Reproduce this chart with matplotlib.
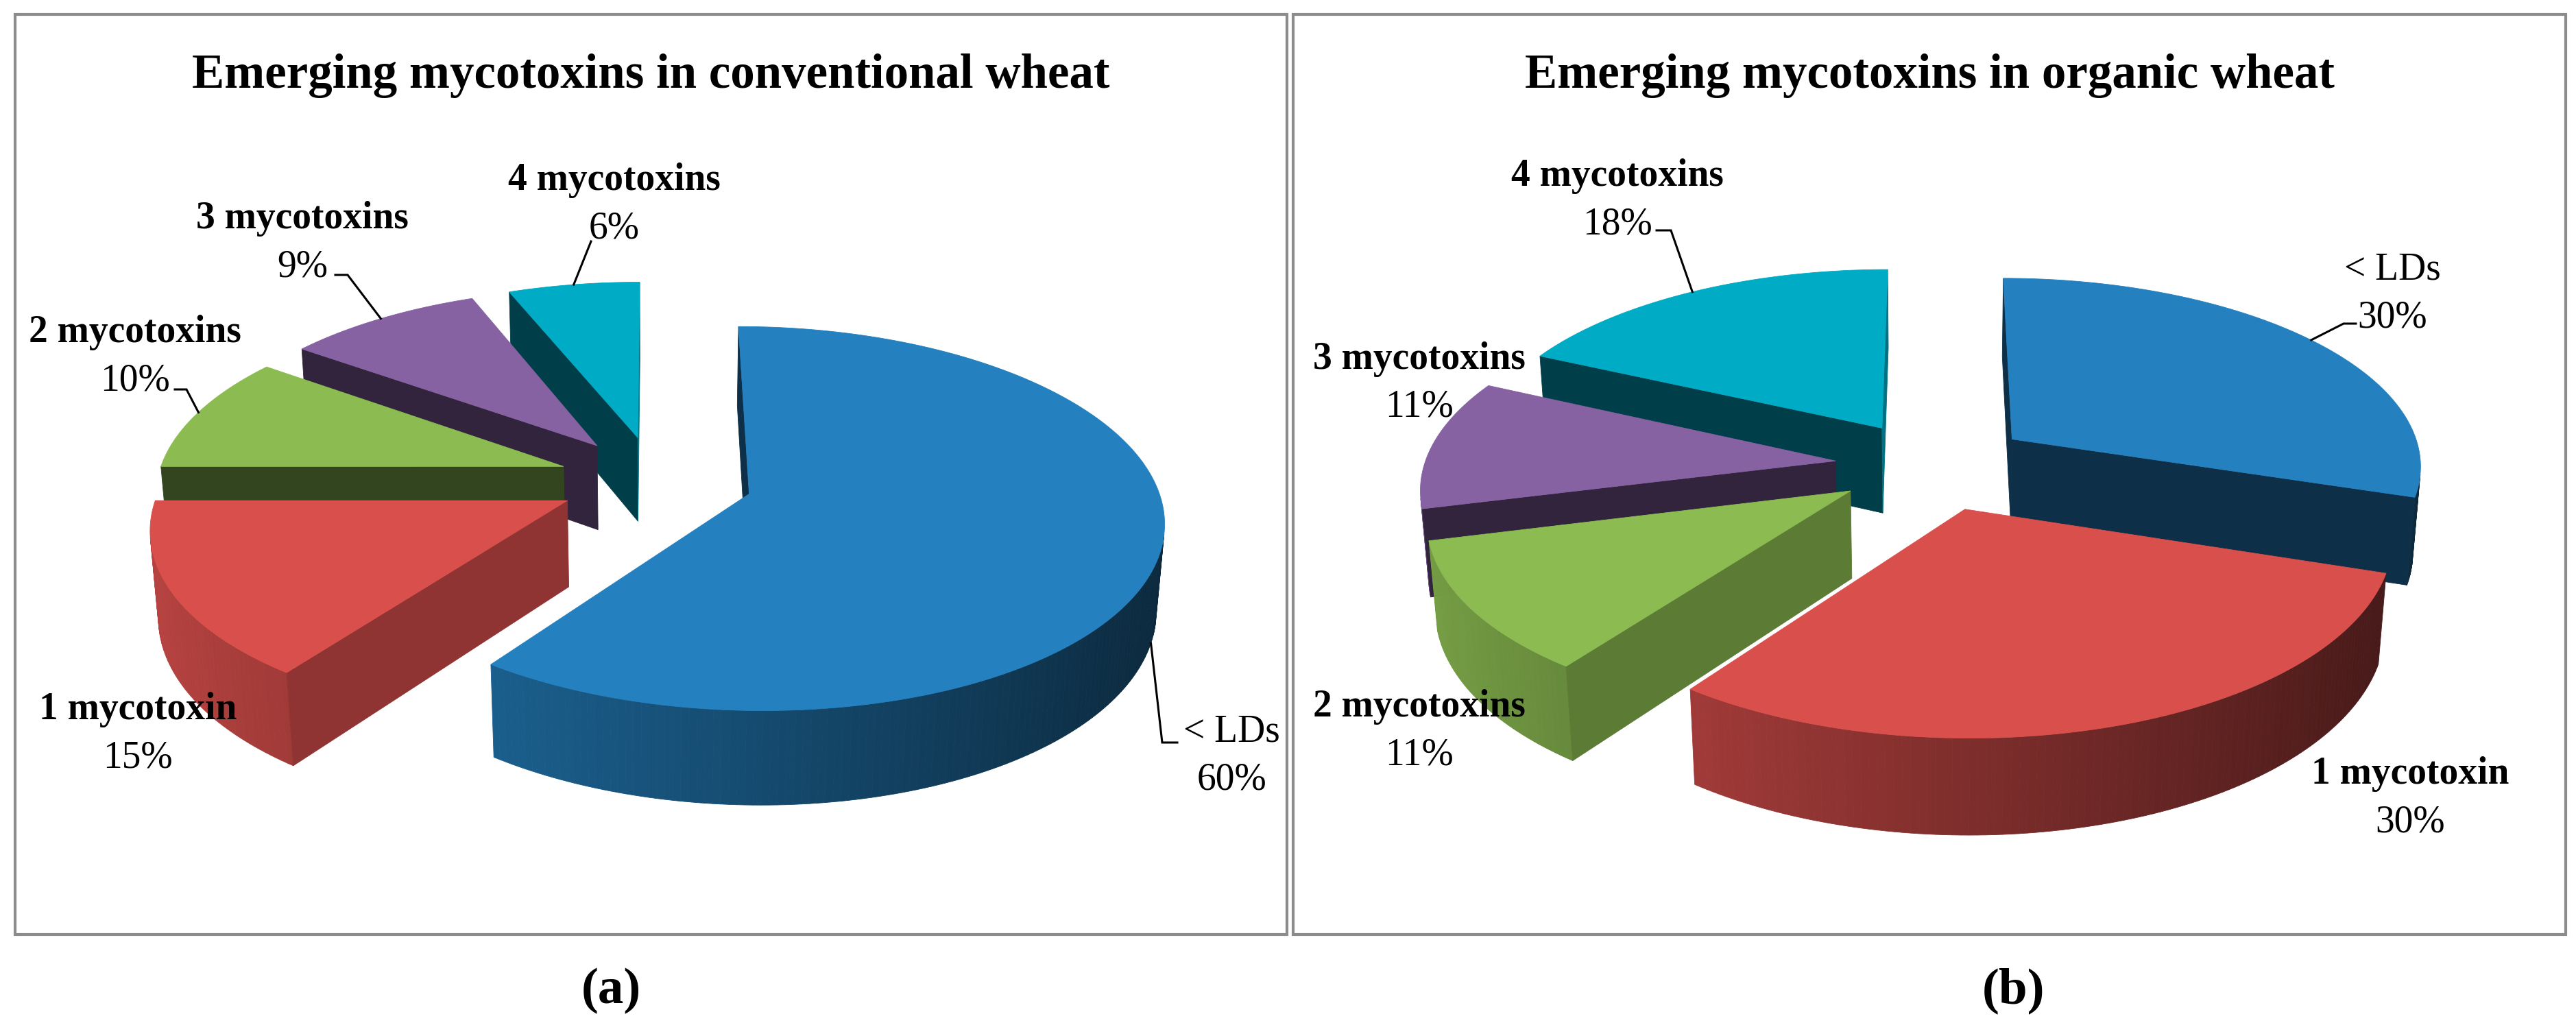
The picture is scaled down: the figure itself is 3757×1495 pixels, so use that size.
import numpy as np
import matplotlib
matplotlib.use("Agg")
import matplotlib.pyplot as plt
from matplotlib.patches import Polygon, Rectangle
from matplotlib.colors import to_rgb

# ---- data ----
categories = ["< LDs", "1 mycotoxin", "2 mycotoxins", "3 mycotoxins", "4 mycotoxins"]
conventional = [60, 15, 10, 9, 6]
organic = [30, 30, 11, 11, 18]
titles = ["Emerging mycotoxins in conventional wheat", "Emerging mycotoxins in organic wheat"]
tags = ["(a)", "(b)"]
colors = ["#2480BF", "#D94F4C", "#8BBB51", "#8662A2", "#00ABC5"]

# ---- layout (pixels of the 3757x1495 canvas) ----
W, H = 3757, 1495
frames = [(22, 21, 1855, 1342), (1886, 21, 1856, 1342)]
centres = [(956, 763, 588), (2820, 742, 595)]   # x, y, px per radius
tag_x = [891, 2937]
label_xy = [
    [(1796, 1064), (201, 1031), (197, 481), (441, 315), (896, 259)],
    [(3489, 389), (3515, 1125), (2070, 1027), (2070, 520), (2359, 253)],
]
# (anchor on rim, start of leader near text, horizontal stub)
leaders = [
    [("bottom", (1717, 1083), -22), None, ("top", (255, 568), 17),
     ("top", (489, 401), 18), ("top", (862, 352), 0)],
    [("top", (3436, 472), -18), None, None, None, ("top", (2416, 336), 21)],
]

plt.rcParams["font.family"] = ["Liberation Serif", "DejaVu Serif"]

ELEV = np.radians(28)
CAM = 7.0       # camera distance, in pie radii
THICK = 0.24    # pie height, in radii
EXPLODE = 0.24

cam_pos = np.array([0.0, -CAM * np.cos(ELEV), CAM * np.sin(ELEV)])


def project(p, cx, cy, k):
    p = np.atleast_2d(p)
    x, y, z = p[:, 0], p[:, 1], p[:, 2]
    d = y * np.cos(ELEV) - z * np.sin(ELEV)
    u = y * np.sin(ELEV) + z * np.cos(ELEV)
    s = CAM / (CAM + d)
    return np.column_stack([cx + k * x * s, cy - k * u * s])


def shade(c, f):
    return tuple(np.clip(np.array(to_rgb(c)) * f, 0, 1))


def add_poly(ax, pts, c, z):
    ax.add_patch(Polygon(pts, closed=True, fc=c, ec=c, lw=0.6, zorder=z))


def draw_pie(ax, values, cx, cy, k):
    bounds = np.cumsum([0] + list(values)) / sum(values) * 360
    order = []
    for i in range(len(values)):
        mid = np.radians((bounds[i] + bounds[i + 1]) / 2)
        order.append((np.cos(mid), i))
    anchors = {}
    zo = 1
    for _, i in sorted(order, reverse=True):   # back slices first
        a0, a1 = bounds[i], bounds[i + 1]
        mid = np.radians((a0 + a1) / 2)
        off = EXPLODE * np.array([np.sin(mid), np.cos(mid), 0.0])
        t = np.radians(np.linspace(a0, a1, max(int(a1 - a0), 2) + 1))
        rim = np.column_stack([np.sin(t), np.cos(t), np.zeros_like(t)]) + off
        up = np.array([0, 0, THICK / 2])
        top, bot = rim + up, rim - up
        tip_t, tip_b = off + up, off - up
        base = colors[i]

        # curved outer wall, lit from the left
        for j in range(len(t) - 1):
            tm = (t[j] + t[j + 1]) / 2
            n = np.array([np.sin(tm), np.cos(tm), 0])
            if n @ (cam_pos - (rim[j] + rim[j + 1]) / 2) <= 0:
                continue
            quad = np.array([top[j], top[j + 1], bot[j + 1], bot[j]])
            add_poly(ax, project(quad, cx, cy, k), shade(base, 0.58 - 0.27 * np.sin(tm)), zo)

        # flat cut faces
        faces = [(0, np.array([-np.cos(t[0]), np.sin(t[0]), 0])),
                 (-1, np.array([np.cos(t[-1]), -np.sin(t[-1]), 0]))]
        for e, n in faces:
            if n @ (cam_pos - off) <= 0:
                continue
            quad = np.array([tip_t, top[e], bot[e], tip_b])
            add_poly(ax, project(quad, cx, cy, k), shade(base, 0.66 if n[0] > 0.5 else 0.37), zo)

        # top face
        add_poly(ax, project(np.vstack([tip_t, top]), cx, cy, k), to_rgb(base), zo + 0.5)
        zo += 1

        m = off + np.array([np.sin(mid), np.cos(mid), 0])
        anchors[i] = {"top": project(m + up, cx, cy, k)[0],
                      "bottom": project(m - up, cx, cy, k)[0]}
    return anchors


fig = plt.figure(figsize=(W / 100, H / 100), dpi=100)
ax = fig.add_axes([0, 0, 1, 1])
ax.set_xlim(0, W)
ax.set_ylim(H, 0)
ax.axis("off")

for p, values in enumerate([conventional, organic]):
    fx, fy, fw, fh = frames[p]
    ax.add_patch(Rectangle((fx, fy), fw, fh, fill=False, ec="#8C8C8C", lw=3, zorder=0))
    ax.text(fx + fw / 2, 128, titles[p], ha="center", va="baseline",
            fontsize=51, fontweight="bold")
    ax.text(tag_x[p], 1463, tags[p], ha="center", va="baseline",
            fontsize=54, fontweight="bold")

    cx, cy, k = centres[p]
    anchors = draw_pie(ax, values, cx, cy, k)

    for i, name in enumerate(categories):
        lx, ly = label_xy[p][i]
        ax.text(lx, ly + 18, name, ha="center", va="baseline", fontsize=40,
                fontweight="normal" if name.startswith("<") else "bold", zorder=20)
        ax.text(lx, ly + 88, f"{values[i]}%", ha="center", va="baseline",
                fontsize=40, zorder=20)
        ld = leaders[p][i]
        if ld is not None:
            side, (sx, sy), stub = ld
            a = anchors[i][side]
            ax.plot([sx, sx + stub, a[0]], [sy, sy, a[1]], color="black",
                    lw=2.2, zorder=19, solid_joinstyle="miter")

fig.savefig("out.png", dpi=100)
